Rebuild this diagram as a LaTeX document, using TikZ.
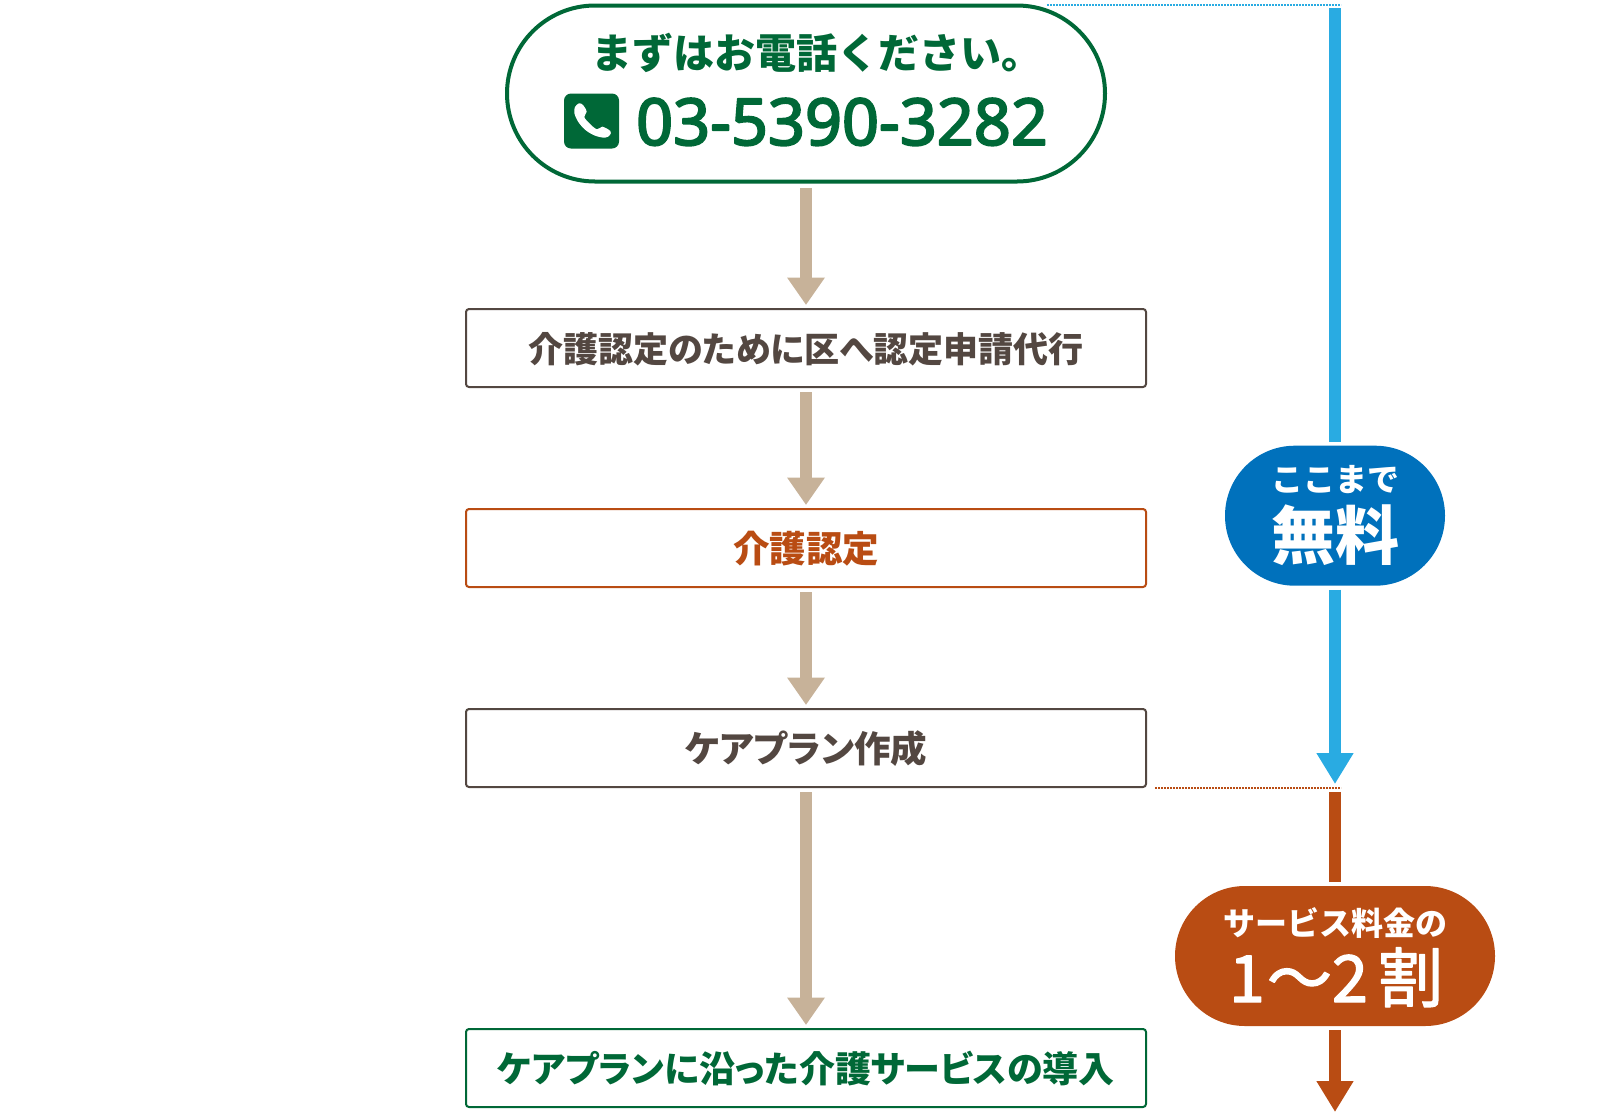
\documentclass[tikz,border=0pt]{standalone}
\usepackage{fontspec}
\usetikzlibrary{arrows.meta}
\newfontfamily\jpfont[RawFeature=+palt]{Noto Sans CJK JP}
\newfontfamily\jpwide{Noto Sans CJK JP}
\newfontfamily\jpmedium[FakeBold=2]{Noto Sans CJK JP}
\newfontfamily\numfont[FakeBold=3]{Noto Sans}
\definecolor{flowgreen}{HTML}{006837}
\definecolor{flowbrown}{HTML}{534741}
\definecolor{flowrust}{HTML}{B94C13}
\definecolor{flowtan}{HTML}{C7B299}
\definecolor{flowblue}{HTML}{0071BC}
\definecolor{flowsky}{HTML}{29ABE2}
\tikzset{
	stepbox/.style={draw=#1,line width=2pt,rounded corners=3pt,fill=white,minimum width=680pt,minimum height=78pt,inner sep=0pt,outer sep=0pt},
	pill/.style={fill=#1,rounded corners=69.9pt,inner sep=0pt,outer sep=0pt,minimum height=140pt},
	label/.style={inner sep=0pt,anchor=base,text=#1},
	jpsize/.style={font=\jpfont\bfseries\fontsize{#1}{#1}\selectfont},
	widesize/.style={font=\jpwide\bfseries\fontsize{#1}{#1}\selectfont},
	tanarrow/.style={draw=flowtan,line width=12pt,-{Triangle[width=36pt,length=27.5pt]},shorten <=5pt,shorten >=4pt},
	feearrow/.style={draw=#1,line width=12pt,-{Triangle[width=35pt,length=31pt]},shorten <=4pt,shorten >=4pt},
	feeline/.style={draw=#1,line width=12pt,shorten <=4pt,shorten >=4pt},
	feedots/.style={draw=#1,line width=2pt,dash pattern=on 1.6pt off 1.4pt}
}
\begin{document}
\begin{tikzpicture}[x=1pt,y=-1pt,line join=round]
	\useasboundingbox (0,0) rectangle (1612,1112);
	\path
	(1047,4.5) coordinate (freedotsL)
	(1341,4.5) coordinate (freedotsR)
	(1335,4) coordinate (freetop)
	(1335,788) coordinate (boundary)
	(1155,788) coordinate (paydotsL)
	(1341,788) coordinate (paydotsR)
	(1335,1116) coordinate (payend);
	\node[draw=flowgreen,line width=4pt,fill=white,rounded corners=88pt,minimum width=598pt,minimum height=176pt,inner sep=0pt,outer sep=1.75pt] (call) at (806,93.5) {};
	\node[stepbox=flowbrown] (apply) at (806,348) {};
	\node[stepbox=flowrust] (cert) at (806,548) {};
	\node[stepbox=flowbrown] (plan) at (806,748) {};
	\node[stepbox=flowgreen] (service) at (806,1068) {};
	\node[pill=flowblue,minimum width=220pt] (free) at (1335,515.7) {};
	\node[pill=flowrust,minimum width=320pt] (copay) at (1335,956) {};
	\node[label=flowgreen,widesize=41] (calltext) at (816.5,68) {まずはお電話ください。};
	\node[label=flowgreen,font=\numfont\fontsize{64.7}{64.7}\selectfont] (phone) at (842,145) {03-5390-3282};
	\node[fill=flowgreen,rounded corners=7pt,minimum size=55pt,inner sep=0pt] (phoneicon) at (591.5,121) {};
	\fill[white,shift={(555,85)},x=.3333pt,y=-.3333pt] plot[smooth cycle,tension=.55] coordinates {(72,55) (60,66) (58,84) (68,108) (90,134) (120,152) (150,158) (165,150) (166,138) (142,125) (126,133) (104,116) (88,96) (95,80) (84,60)};
	\foreach \p/\t/\c/\y/\s in {apply/介護認定のために区へ認定申請代行/flowbrown/362/35, cert/介護認定/flowrust/562.5/36.5, plan/ケアプラン作成/flowbrown/762.5/36.5, service/ケアプランに沿った介護サービスの導入/flowgreen/1082.5/36}
	\node[label=\c,jpsize=\s] (\p text) at (806,\y) {\t};
	\node[label=white,widesize=32] (freetext) at (1335,491) {ここまで};
	\node[label=white,widesize=64] (freebig) at (1335,559) {無料};
	\node[label=white,widesize=32] (copaytext) at (1335,935) {サービス料金の};
	\node[label=white,font=\jpmedium\fontsize{65}{65}\selectfont] (copaybig) at (1336,1002) {1\kern2pt〜2\kern10pt 割};
	\draw[feedots=flowsky] (freedotsL) -- (freedotsR);
	\draw[feedots=flowrust] (paydotsL) -- (paydotsR);
	\foreach \a/\b in {call/apply, apply/cert, cert/plan, plan/service}
	\draw[tanarrow] (\a.south) -- (\b.north);
	\draw[feeline=flowsky] (freetop) -- (free.north);
	\draw[feearrow=flowsky] (free.south) -- (boundary);
	\draw[feeline=flowrust] (boundary) -- (copay.north);
	\draw[feearrow=flowrust] (copay.south) -- (payend);
\end{tikzpicture}
\end{document}
